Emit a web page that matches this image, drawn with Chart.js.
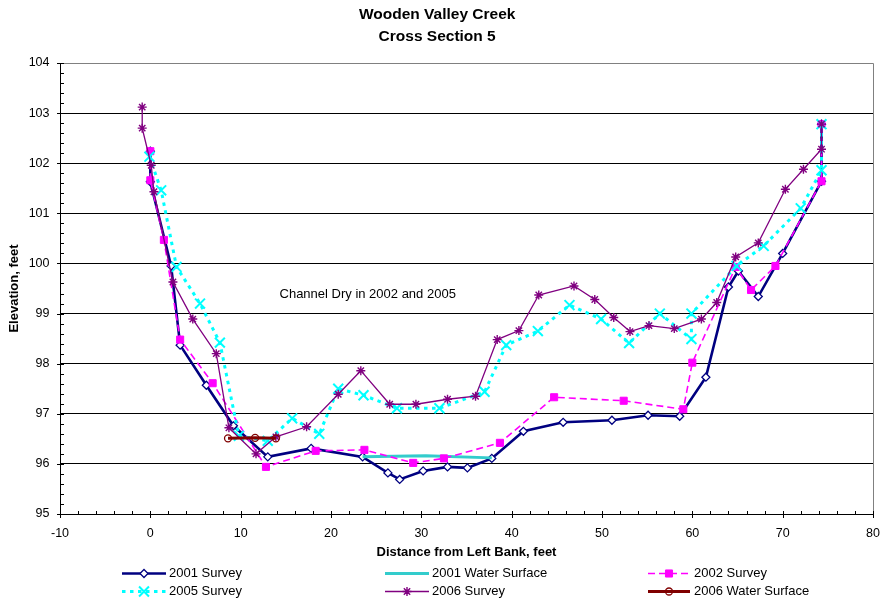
<!DOCTYPE html>
<html>
<head>
<meta charset="utf-8">
<title>Wooden Valley Creek - Cross Section 5</title>
<script src="https://cdn.jsdelivr.net/npm/chart.js@4.4.1/dist/chart.umd.min.js"></script>
<style>
  html, body { margin: 0; padding: 0; background: #ffffff; }
  #wrap { width: 882px; height: 605px; }
</style>
</head>
<body>
<div id="wrap"><canvas id="xs5" width="882" height="605"></canvas></div>
<script>
// Station (feet from left bank) and elevation (feet) for each survey
const survey2001X = [0, 0, 2.3, 3.3, 6.2, 9.2, 13.0, 17.8, 23.5, 26.3, 27.6, 30.2, 32.9, 35.1, 37.8, 41.3, 45.7, 51.1, 55.1, 58.6, 61.5, 64.0, 65.1, 67.3, 70.0, 74.3, 74.3];
const survey2001Y = [102.24, 101.63, 99.95, 98.37, 97.57, 96.76, 96.14, 96.31, 96.14, 95.82, 95.69, 95.86, 95.94, 95.92, 96.11, 96.65, 96.83, 96.87, 96.97, 96.95, 97.73, 99.53, 99.85, 99.34, 100.2, 101.64, 102.78];

const water2001X = [23.5, 30.5, 37.8];
const water2001Y = [96.14, 96.16, 96.12];

const survey2002X = [0, 0, 1.5, 3.3, 6.9, 12.8, 18.3, 23.7, 29.1, 32.5, 38.7, 44.7, 52.4, 59.0, 60.0, 64.8, 66.5, 69.2, 74.3, 74.3];
const survey2002Y = [102.24, 101.66, 100.47, 98.48, 97.61, 95.94, 96.26, 96.28, 96.02, 96.11, 96.42, 97.33, 97.26, 97.09, 98.02, 99.93, 99.47, 99.95, 101.64, 102.78];

const survey2005X = [-0.1, 1.2, 2.9, 5.5, 7.7, 9.8, 13.0, 15.7, 18.7, 20.8, 23.6, 27.3, 32.0, 37.0, 39.4, 42.9, 46.4, 49.9, 53.0, 56.4, 59.9, 59.9, 64.9, 67.9, 72.0, 74.3, 74.3];
const survey2005Y = [102.13, 101.46, 99.93, 99.2, 98.42, 96.56, 96.46, 96.91, 96.6, 97.5, 97.37, 97.11, 97.11, 97.44, 98.37, 98.65, 99.17, 98.89, 98.41, 99.0, 98.49, 99.0, 99.95, 100.35, 101.1, 101.86, 102.78];

const survey2006X = [-0.9, -0.9, 0.1, 0.4, 2.5, 4.7, 7.3, 8.7, 11.7, 13.9, 17.3, 20.8, 23.3, 26.5, 29.4, 32.9, 36.0, 38.4, 40.8, 43.0, 46.9, 49.2, 51.3, 53.1, 55.2, 58.0, 61.0, 62.7, 64.8, 67.3, 70.3, 72.3, 74.3, 74.3];
const survey2006Y = [103.12, 102.7, 101.96, 101.43, 99.63, 98.89, 98.2, 96.72, 96.2, 96.54, 96.74, 97.39, 97.86, 97.19, 97.19, 97.29, 97.35, 98.48, 98.66, 99.37, 99.55, 99.28, 98.92, 98.64, 98.76, 98.7, 98.89, 99.22, 100.13, 100.41, 101.48, 101.88, 102.28, 102.78];

const water2006X = [8.6, 11.6, 13.9];
const water2006Y = [96.51, 96.52, 96.51];

const seriesNames = ['2001 Survey', '2001 Water Surface', '2002 Survey', '2005 Survey', '2006 Survey', '2006 Water Surface'];
const titleLines = ['Wooden Valley Creek', 'Cross Section 5'];
const noteText = 'Channel Dry in 2002 and 2005';
const notePos = { x: 14.3, y: 99.39 };
const xTitle = 'Distance from Left Bank, feet';
const yTitle = 'Elevation, feet';

const FONT = "'Liberation Sans', Arial, Helvetica, sans-serif";

function pairs(xs, ys) { return xs.map((x, i) => ({ x: x, y: ys[i] })); }

const datasets = [
  { label: seriesNames[0], data: pairs(survey2001X, survey2001Y),
    borderColor: '#000080', borderWidth: 2.6, pointStyle: 'rectRot', pointRadius: 4,
    pointBorderColor: '#000080', pointBackgroundColor: '#ffffff', pointBorderWidth: 1.3 },
  { label: seriesNames[1], data: pairs(water2001X, water2001Y),
    borderColor: '#33CCCC', borderWidth: 3, pointRadius: 0, pointStyle: false },
  { label: seriesNames[2], data: pairs(survey2002X, survey2002Y),
    borderColor: '#FF00FF', borderWidth: 1.6, borderDash: [7, 4], pointStyle: 'rect', pointRadius: 5,
    pointBorderColor: '#FF00FF', pointBackgroundColor: '#FF00FF', pointBorderWidth: 1 },
  { label: seriesNames[3], data: pairs(survey2005X, survey2005Y),
    borderColor: '#00FFFF', borderWidth: 3, borderDash: [3.5, 4.5], pointStyle: 'crossRot', pointRadius: 7,
    pointBorderColor: '#00FFFF', pointBackgroundColor: '#00FFFF', pointBorderWidth: 2 },
  { label: seriesNames[4], data: pairs(survey2006X, survey2006Y),
    borderColor: '#800080', borderWidth: 1.3, pointStyle: 'star', pointRadius: 4.5,
    pointBorderColor: '#800080', pointBackgroundColor: '#800080', pointBorderWidth: 1.4 },
  { label: seriesNames[5], data: pairs(water2006X, water2006Y),
    borderColor: '#800000', borderWidth: 3, pointStyle: 'circle', pointRadius: 3.5,
    pointBorderColor: '#800000', pointBackgroundColor: 'rgba(255,255,255,0)', pointBorderWidth: 1.3 }
].map((d, i) => Object.assign({ showLine: true, fill: false, tension: 0, order: 5 - i, pointHoverRadius: d.pointRadius }, d));

// Plot frame: grey top/right edge plus Excel-style major/minor tick marks
const framePlugin = {
  id: 'frame',
  beforeDatasetsDraw(chart) {
    const { ctx, chartArea: a } = chart;
    ctx.save();
    ctx.strokeStyle = '#808080';
    ctx.lineWidth = 1;
    const r = Math.round(a.right) + 0.5, t = Math.round(a.top) + 0.5;
    ctx.beginPath();
    ctx.moveTo(a.left, t);
    ctx.lineTo(r, t);
    ctx.lineTo(r, a.bottom);
    ctx.stroke();
    ctx.restore();
  },
  afterDraw(chart) {
    const { ctx } = chart;
    const xs = chart.scales.x, ys = chart.scales.y;
    const ax = Math.round(xs.left) + 0.5;          // y-axis line
    const ay = Math.round(ys.bottom) + 0.5;        // x-axis line
    ctx.save();
    ctx.strokeStyle = '#000';
    ctx.lineWidth = 1;
    ctx.beginPath();
    for (let k = 0; k <= 45; k++) {
      const v = ys.min + k * 0.2;
      const py = Math.round(ys.getPixelForValue(v)) + 0.5;
      const major = k % 5 === 0;
      ctx.moveTo(major ? ax - 3.5 : ax, py);
      ctx.lineTo(ax + 3.5, py);
    }
    for (let k = 0; k <= 45; k++) {
      const v = xs.min + k * 2;
      const px = Math.round(xs.getPixelForValue(v)) + 0.5;
      const major = k % 5 === 0;
      ctx.moveTo(px, ay - 3.5);
      ctx.lineTo(px, major ? ay + 3.5 : ay);
    }
    ctx.stroke();

    // note inside the plot
    ctx.fillStyle = '#000';
    ctx.font = '13px ' + FONT;
    ctx.textAlign = 'left';
    ctx.textBaseline = 'middle';
    ctx.fillText(noteText, xs.getPixelForValue(notePos.x), ys.getPixelForValue(notePos.y));
    ctx.restore();
  }
};

// Three-column legend with line samples and centred markers
const legendPlugin = {
  id: 'gridLegend',
  afterDraw(chart) {
    const { ctx } = chart;
    const cols = [{ x0: 122, x1: 166, tx: 169 }, { x0: 385, x1: 429, tx: 432 }, { x0: 648, x1: 690, tx: 694 }];
    const rows = [573.5, 591.5];
    const drawPoint = (Chart.helpers && Chart.helpers.drawPoint) ? Chart.helpers.drawPoint : null;
    chart.data.datasets.forEach((ds, i) => {
      const c = cols[i % 3], y = rows[Math.floor(i / 3)];
      ctx.save();
      ctx.strokeStyle = ds.borderColor;
      ctx.lineWidth = ds.borderWidth;
      ctx.setLineDash(ds.borderDash || []);
      ctx.beginPath();
      ctx.moveTo(c.x0, y);
      ctx.lineTo(c.x1, y);
      ctx.stroke();
      ctx.setLineDash([]);
      if (ds.pointStyle && ds.pointRadius > 0 && drawPoint) {
        ctx.strokeStyle = ds.pointBorderColor;
        ctx.fillStyle = ds.pointBackgroundColor;
        ctx.lineWidth = ds.pointBorderWidth;
        drawPoint(ctx, { pointStyle: ds.pointStyle, radius: ds.pointRadius, rotation: 0, borderWidth: ds.pointBorderWidth }, (c.x0 + c.x1) / 2, y);
      }
      ctx.fillStyle = '#000';
      ctx.font = '13px ' + FONT;
      ctx.textAlign = 'left';
      ctx.textBaseline = 'middle';
      ctx.fillText(ds.label, c.tx, y);
      ctx.restore();
    });
  }
};

Chart.defaults.font.family = FONT;
Chart.defaults.color = '#000';

new Chart(document.getElementById('xs5'), {
  type: 'scatter',
  data: { datasets: datasets },
  options: {
    responsive: false,
    animation: false,
    events: [],
    layout: { padding: { left: 0, right: 7.7, top: 0, bottom: 0 } },
    plugins: {
      legend: { display: false },
      tooltip: { enabled: false },
      title: {
        display: true,
        text: titleLines,
        color: '#000',
        font: { size: 15.5, weight: 'bold', lineHeight: '22.5px' },
        padding: { top: 3, bottom: 15 }
      }
    },
    scales: {
      x: {
        type: 'linear',
        min: -10, max: 80,
        afterFit(s) { s.height = 91; s.paddingLeft = 0; s.paddingRight = 0; },
        ticks: { stepSize: 10, padding: 12, font: { size: 12.5 }, color: '#000', maxRotation: 0 },
        grid: { display: true, drawOnChartArea: false, drawTicks: false },
        border: { display: true, color: '#000', width: 1 },
        title: { display: true, text: xTitle, font: { size: 13, weight: 'bold' }, padding: { top: 0, bottom: 45 } }
      },
      y: {
        type: 'linear',
        min: 95, max: 104,
        afterFit(s) { s.width = 60; },
        ticks: { stepSize: 1, padding: 10.5, font: { size: 12.5 }, color: '#000' },
        grid: {
          drawTicks: false,
          lineWidth: 1,
          color: (c) => (c.tick && c.tick.value === 104 ? '#808080' : '#000000')
        },
        border: { display: true, color: '#000', width: 1 },
        title: { display: true, text: yTitle, font: { size: 13, weight: 'bold' }, padding: { top: 6.2, bottom: 0 } }
      }
    }
  },
  plugins: [framePlugin, legendPlugin]
});
</script>
</body>
</html>
